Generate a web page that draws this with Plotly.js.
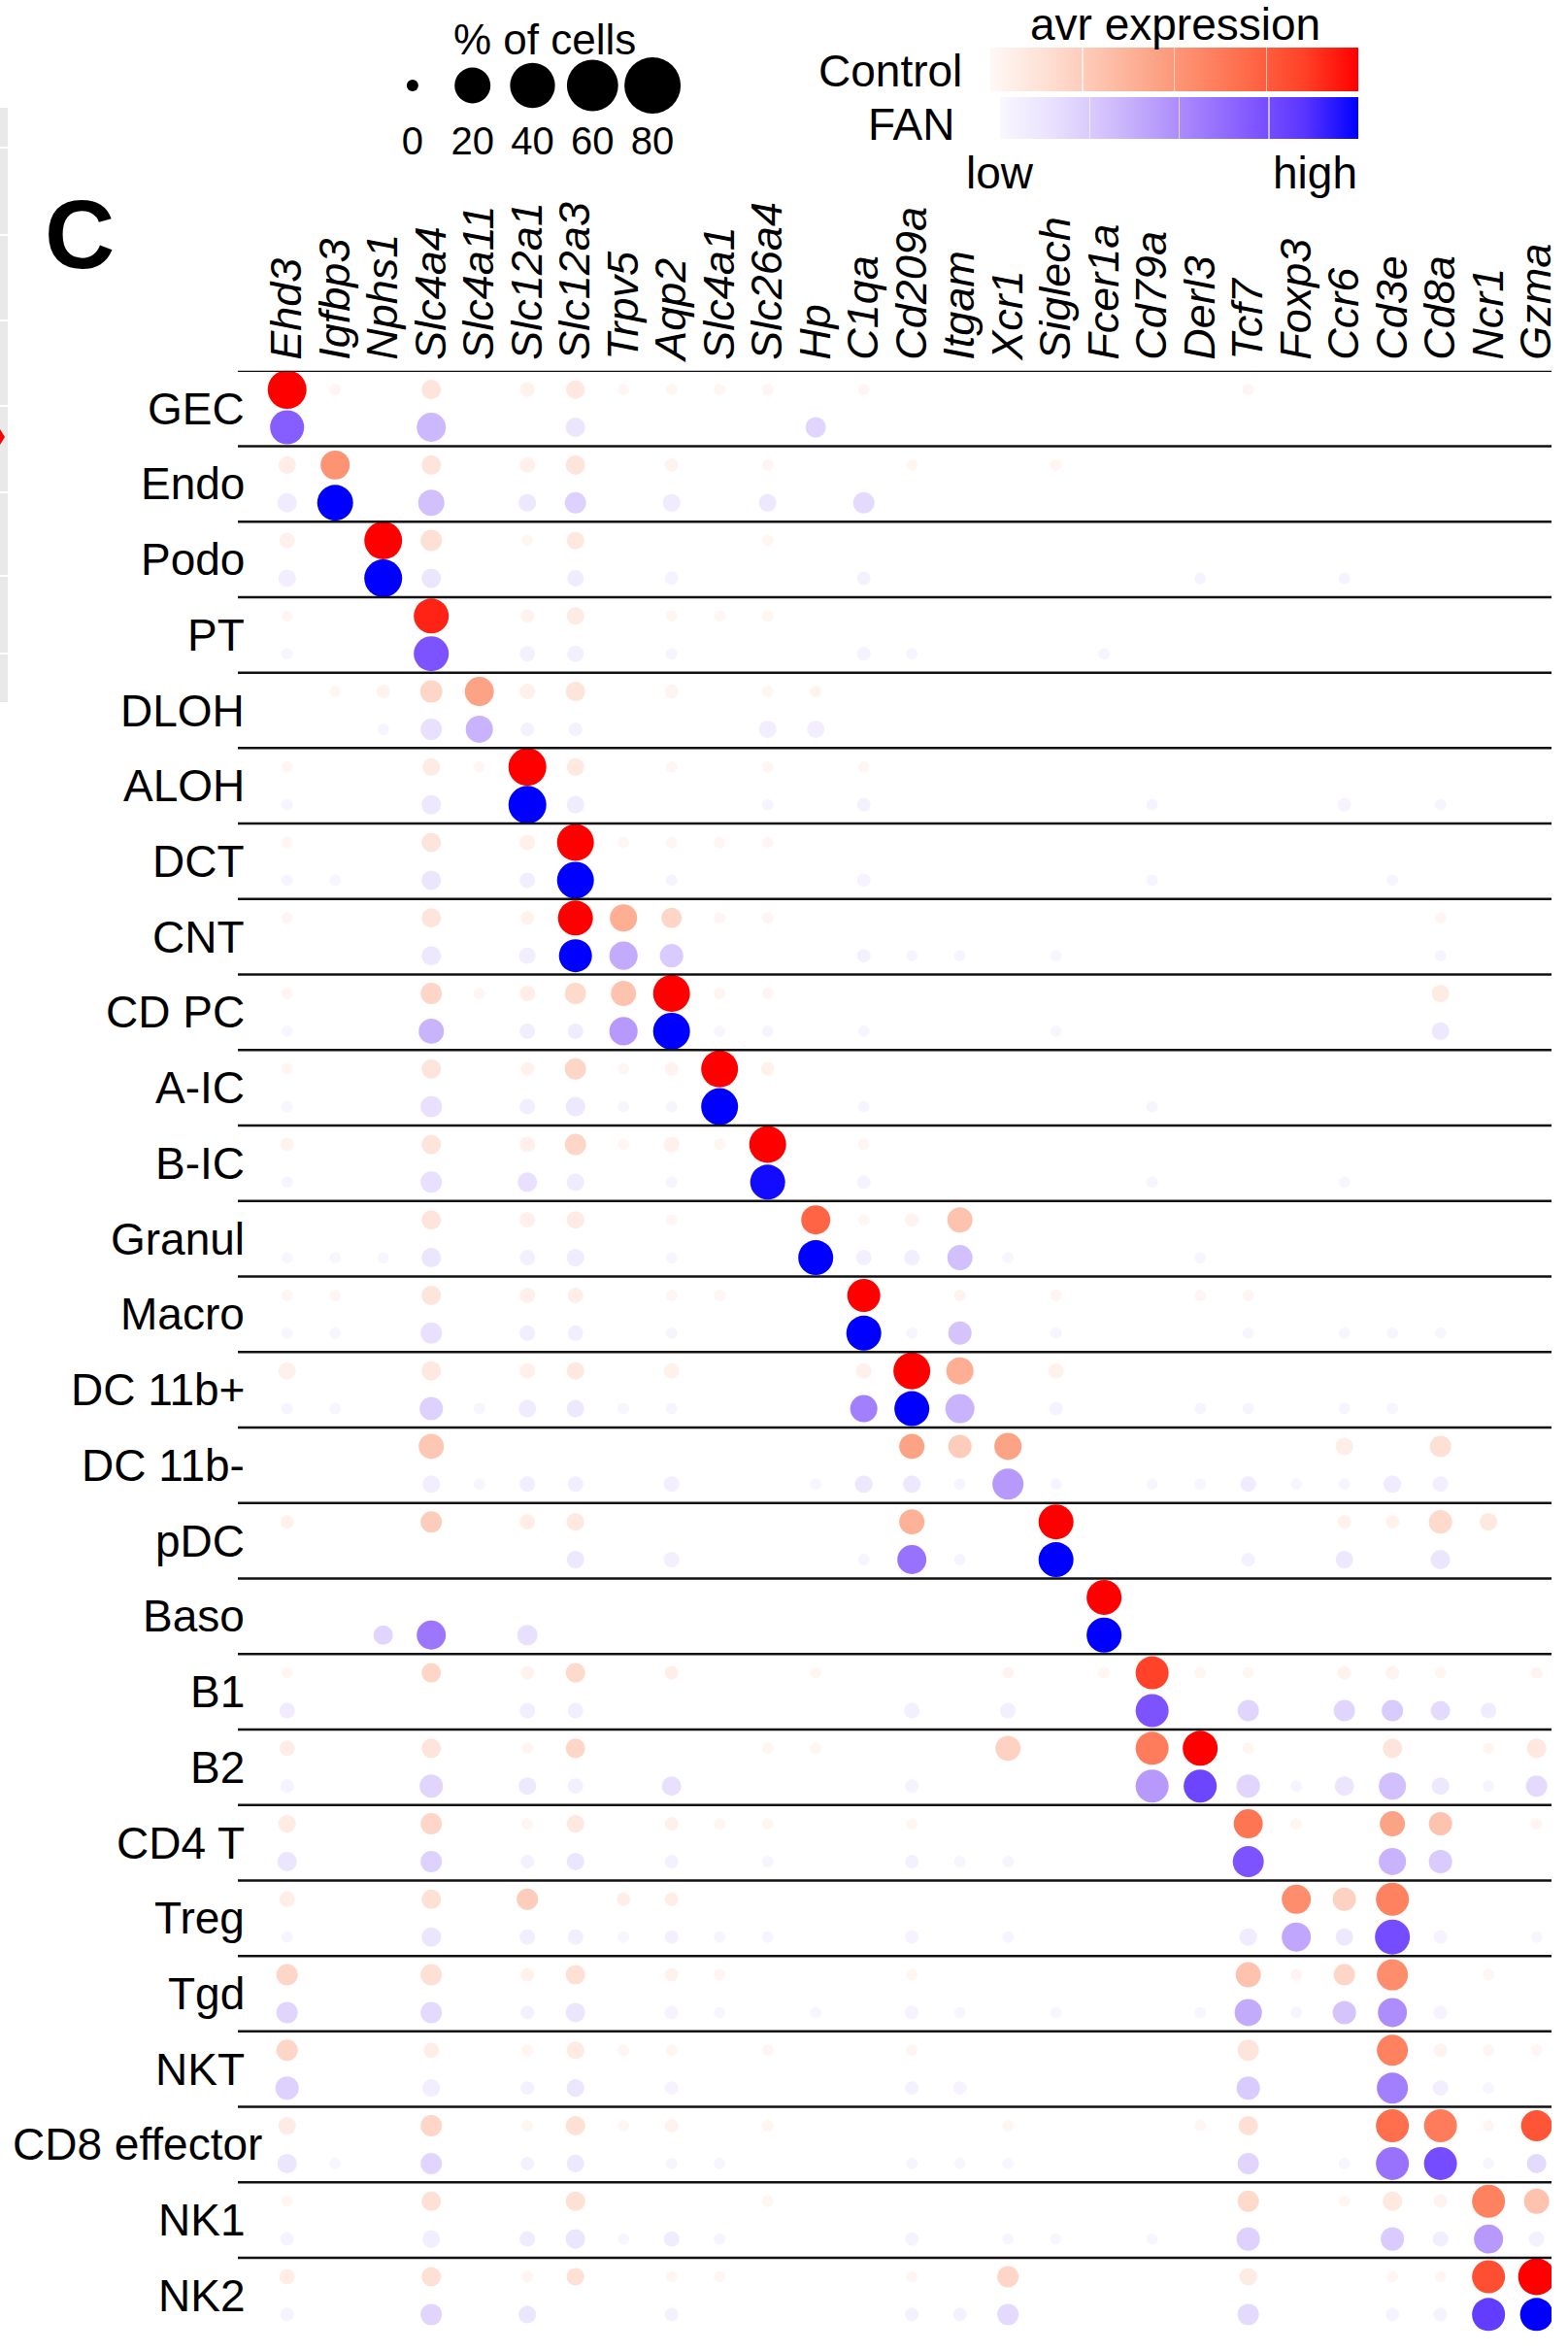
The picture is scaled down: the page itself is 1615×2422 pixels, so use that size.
<!DOCTYPE html>
<html>
<head>
<meta charset="utf-8">
<script src="https://cdn.plot.ly/plotly-3.0.1.min.js"></script>
<style>
html,body{margin:0;padding:0;background:#fff;}
#chart{width:1615px;height:2422px;}
</style>
</head>
<body>
<div id="chart"></div>
<script>
// ---------------- DATA ----------------
const genes = ['Ehd3','Igfbp3','Nphs1','Slc4a4','Slc4a11','Slc12a1','Slc12a3','Trpv5','Aqp2','Slc4a1','Slc26a4','Hp','C1qa','Cd209a','Itgam','Xcr1','Siglech','Fcer1a','Cd79a','Derl3','Tcf7','Foxp3','Ccr6','Cd3e','Cd8a','Ncr1','Gzma'];
const cellTypes = ['GEC','Endo','Podo','PT','DLOH','ALOH','DCT','CNT','CD PC','A-IC','B-IC','Granul','Macro','DC 11b+','DC 11b-','pDC','Baso','B1','B2','CD4 T','Treg','Tgd','NKT','CD8 effector','NK1','NK2'];
const conditions = ['Control','FAN'];

// % of cells expressing (Control)
const ctrlPct = [
[25.4,0.6,0,3,0,1.2,2.6,0.6,0.6,0.6, 0.6,0,0.6,0,0,0,0,0,0,0, 0.6,0,0,0,0,0,0],
[2.2,10.4,0,3,0,1.5,3,0,1,0, 0.6,0,0,0.6,0,0,0.6,0,0,0, 0,0,0,0,0,0,0],
[1.5,0,23.5,4,0,0.6,2.2,0,0,0, 0.6,0,0,0,0,0,0,0,0,0, 0,0,0,0,0,0,0],
[0.6,0,0,18.4,0,1,2.2,0,0.6,0.6, 0.6,0,0,0,0,0,0,0,0,0, 0,0,0,0,0,0,0],
[0,0.6,1,4.6,10.4,1.5,3,0,1,0, 0.6,0.6,0,0,0,0,0,0,0,0, 0,0,0,0,0,0,0],
[0.6,0,0,2.2,0.6,23.5,2.2,0,0.6,0, 0.6,0,0.6,0,0,0,0,0,0,0, 0,0,0,0,0,0,0],
[0.6,0,0,3,0,1.5,21.7,0.6,0.6,0.6, 0.6,0,0,0,0,0,0,0,0,0, 0,0,0,0,0,0,0],
[0.6,0,0,3,0,1,18.4,8.5,3.5,0.6, 0.6,0,0,0,0,0,0,0,0,0, 0,0,0,0,0.6,0,0],
[0.6,0,0,4,0.6,1.5,4,6.7,21.7,0.6, 0.6,0,0,0,0,0,0,0,0,0, 0,0,0,0,2.2,0,0],
[0.6,0,0,3,0,1,4,0.6,1,21.7, 1,0,0,0,0,0,0,0,0,0, 0,0,0,0,0,0,0],
[1,0,0,3,0,1.5,4,0.6,1.5,0.6, 21.7,0,0.6,0,0,0,0,0,0,0, 0,0,0,0,0,0,0],
[0,0,0,3,0,1.5,2.2,0,0.6,0, 0,10.4,0.6,1,6.7,0,0,0,0,0, 0,0,0,0,0,0,0],
[0.6,0.6,0,3,0,1.5,1.5,0,0.6,0.6, 0,0,15.4,0,0.6,0,0.6,0,0,0.6, 0.6,0,0,0,0,0,0],
[2.2,0,0,3,0,1.5,2.2,0,1.5,0, 0,0,1.5,21.7,8.5,0,1.5,0,0,0, 0,0,0,0,0,0,0],
[0,0,0,6.7,0,0,0,0,0,0, 0,0,0,6.7,5.3,8.5,0,0,0,0, 0,0,2.2,0,4,0,0],
[1,0,0,4,0,1.5,2.2,0,0,0, 0,0,0,6.7,0,0,18.4,0,0,0, 0,0,1,1,5.3,2.2,0],
[0,0,0,0,0,0,0,0,0,0, 0,0,0,0,0,0,0,18.4,0,0, 0,0,0,0,0,0,0],
[0.6,0,0,3,0,1,3,0,1,0, 0,0.6,0,0,0,0.6,0,0.6,15.4,0.6, 0.6,0,1,1,0.6,0,0.6],
[1.5,0,0,3,0,0.6,3,0,0,0, 0.6,0.6,0,0,0,6.7,0,0,15.4,18.4, 0.6,0,0,3,0,0.6,3],
[2.2,0,0,4,0,0.6,2.2,0,1,0.6, 0.6,0,0,0.6,0,0,0,0,0,0, 10.4,0.6,0,6.7,5.3,0,0.6],
[1.5,0,0,3,0,4,0,1,1,0, 0,0,0,0,0,0,0,0,0,0, 0,10.4,5.3,15.4,0,0,0],
[4,0,0,4,0,1,3,0,1,0.6, 0,0,0,0.6,0,0,0,0,0,0, 6.7,0.6,4,12.8,0,0.6,0],
[4,0,0,1.5,0,0.6,2.2,0.6,0.6,0, 0.6,0,0,0.6,0,0,0,0,0,0, 4,0,0,12.8,1,0.6,0.6],
[2.2,0,0,4,0,0.6,3,0.6,1,0, 0.6,0,0,0,0,0.6,0,0,0,0.6, 3,0,0,15.4,15.4,0.6,12.8],
[0.6,0,0,3,0,0,3,0,0,0, 0.6,0,0,0,0,0,0,0,0,0, 4,0,0.6,3,1,15.4,6.7],
[1.5,0,0,3,0,0.6,2.2,0,0.6,0.6, 0,0,0,0.6,0,4,0,0,0,0, 2.2,0,0,0.6,0.6,15.4,21.7]
];
// average expression, scaled 0..1 (Control)
const ctrlExpr = [
[1,0.02,0,0.12,0,0.04,0.1,0.01,0.02,0.02, 0.02,0,0.01,0,0,0,0,0,0,0, 0.01,0,0,0,0,0,0],
[0.07,0.52,0,0.12,0,0.05,0.12,0,0.03,0, 0.02,0,0,0.02,0,0,0.02,0,0,0, 0,0,0,0,0,0,0],
[0.05,0,1,0.15,0,0.02,0.1,0,0,0, 0.02,0,0,0,0,0,0,0,0,0, 0,0,0,0,0,0,0],
[0.01,0,0,0.92,0,0.03,0.08,0,0.02,0.01, 0.02,0,0,0,0,0,0,0,0,0, 0,0,0,0,0,0,0],
[0,0.01,0.03,0.2,0.45,0.05,0.12,0,0.03,0, 0.02,0.03,0,0,0,0,0,0,0,0, 0,0,0,0,0,0,0],
[0.01,0,0,0.08,0.01,1,0.1,0,0.01,0, 0.01,0,0.01,0,0,0,0,0,0,0, 0,0,0,0,0,0,0],
[0.01,0,0,0.12,0,0.05,1,0.01,0.02,0.01, 0.01,0,0,0,0,0,0,0,0,0, 0,0,0,0,0,0,0],
[0.01,0,0,0.12,0,0.04,1,0.4,0.2,0.01, 0.02,0,0,0,0,0,0,0,0,0, 0,0,0,0,0.01,0,0],
[0.02,0,0,0.2,0.01,0.06,0.18,0.3,1,0.02, 0.02,0,0,0,0,0,0,0,0,0, 0,0,0,0,0.08,0,0],
[0.02,0,0,0.12,0,0.04,0.2,0.01,0.03,1, 0.04,0,0,0,0,0,0,0,0,0, 0,0,0,0,0,0,0],
[0.03,0,0,0.12,0,0.05,0.2,0.01,0.05,0.02, 1,0,0.01,0,0,0,0,0,0,0, 0,0,0,0,0,0,0],
[0,0,0,0.12,0,0.05,0.08,0,0.01,0, 0,0.72,0.01,0.03,0.3,0,0,0,0,0, 0,0,0,0,0,0,0],
[0.01,0.01,0,0.12,0,0.05,0.06,0,0.01,0.01, 0,0,1,0,0.03,0,0.01,0,0,0.01, 0.01,0,0,0,0,0,0],
[0.05,0,0,0.1,0,0.05,0.1,0,0.04,0, 0,0,0.05,1,0.4,0,0.04,0,0,0, 0,0,0,0,0,0,0],
[0,0,0,0.28,0,0,0,0,0,0, 0,0,0,0.45,0.25,0.45,0,0,0,0, 0,0,0.06,0,0.15,0,0],
[0.04,0,0,0.25,0,0.07,0.1,0,0,0, 0,0,0,0.38,0,0,1,0,0,0, 0,0,0.04,0.04,0.18,0.1,0],
[0,0,0,0,0,0,0,0,0,0, 0,0,0,0,0,0,0,1,0,0, 0,0,0,0,0,0,0],
[0.02,0,0,0.2,0,0.03,0.18,0,0.06,0, 0,0.02,0,0,0,0.03,0,0.02,0.85,0.02, 0.02,0,0.04,0.03,0.02,0,0.03],
[0.06,0,0,0.12,0,0.02,0.2,0,0,0, 0.02,0.02,0,0,0,0.22,0,0,0.62,1, 0.02,0,0,0.12,0,0.02,0.1],
[0.08,0,0,0.2,0,0.02,0.1,0,0.05,0.02, 0.02,0,0,0.02,0,0,0,0,0,0, 0.65,0.02,0,0.45,0.3,0,0.02],
[0.06,0,0,0.15,0,0.25,0,0.06,0.07,0, 0,0,0,0,0,0,0,0,0,0, 0,0.55,0.22,0.6,0,0,0],
[0.2,0,0,0.15,0,0.04,0.15,0,0.04,0.02, 0,0,0,0.02,0,0,0,0,0,0, 0.3,0.01,0.2,0.55,0,0.01,0],
[0.2,0,0,0.06,0,0.02,0.08,0.01,0.02,0, 0.01,0,0,0.01,0,0,0,0,0,0, 0.12,0,0,0.6,0.03,0.01,0.01],
[0.08,0,0,0.2,0,0.02,0.15,0.01,0.03,0, 0.02,0,0,0,0,0.02,0,0,0,0.01, 0.15,0,0,0.68,0.62,0.01,0.78],
[0.02,0,0,0.15,0,0,0.15,0,0,0, 0.02,0,0,0,0,0,0,0,0,0, 0.18,0,0.02,0.1,0.03,0.6,0.3],
[0.07,0,0,0.15,0,0.02,0.15,0,0.02,0.01, 0,0,0,0.01,0,0.2,0,0,0,0, 0.08,0,0,0.01,0.01,0.8,1]
];
// % of cells expressing (FAN)
const fanPct = [
[16.9,0,0,10.4,0,0,3,0,0,0, 0,3.5,0,0,0,0,0,0,0,0, 0,0,0,0,0,0,0],
[3,20,0,7.6,0,2.2,4,0,2.2,0, 2.2,0,4,0,0,0,0,0,0,0, 0,0,0,0,0,0,0],
[2.2,0,23.5,3,0,0,1.8,0,1,0, 0,0,1,0,0,0,0,0,0,0.6, 0,0,0.6,0,0,0,0],
[0.6,0,0,18.4,0,1.5,1.8,0,0.6,0, 0,0,1,0.6,0,0,0,0.6,0,0, 0,0,0,0,0,0,0],
[0,0,0.6,4,8.5,1,1,0,0,0, 2.2,2.2,0,0,0,0,0,0,0,0, 0,0,0,0,0,0,0],
[0.6,0,0,3,0,23.5,2.2,0,0,0, 0.6,0,1,0,0,0,0,0,0.6,0, 0,0,1,0,0.6,0,0],
[0.6,0.6,0,3,0,1.5,21.7,0,0.6,0, 0,0,1,0,0,0,0,0,0.6,0, 0,0,0,0.6,0,0,0],
[0,0,0,3,0,1.8,15.4,9.5,5.3,0, 0,0,1,0.6,0.6,0,0.6,0,0,0, 0,0,0,0,0.6,0,0],
[0.6,0,0,6.7,0,1.5,1.5,9.5,21.7,0.6, 0.6,0,0.6,0,0,0,0.6,0,0,0, 0,0,0,0,2.2,0,0],
[0.6,0,0,4,0,1.5,3,0.6,0.6,21.7, 0,0,0.6,0,0,0,0,0,0.6,0, 0,0,0,0,0,0,0],
[0.6,0,0,4,0,3,2.2,0,0.6,0, 18.4,0,1,0,0,0,0,0,0.6,0, 0,0,0.6,0,0,0,0],
[0.6,0.6,0.6,3,0,1.5,2.2,0,0.6,0, 0,18.4,1.5,1.5,6.7,0.6,0,0,0,0.6, 0,0,0,0,0,0,0],
[0.6,0.6,0,4,0,1.5,1.5,0,0.6,0, 0,0,18.4,0.6,5.3,0,0.6,0,0,0, 0.6,0,0.6,0.6,0.6,0,0],
[0.6,0.6,0,5.3,0.6,2.2,2.2,0.6,0.6,0, 0,0,8.5,18.4,10.4,0,1,0,0,0.6, 0.6,0,0.6,0.6,0,0,0],
[0,0,0,2.2,0.6,1.5,1.5,0,1.5,0, 0,0.6,2.2,2.2,0.6,12.8,0.6,0,0.6,0.6, 1.5,0.6,0.6,2.2,1.5,0,0],
[0,0,0,0,0,0,2.2,0,1.5,0, 0,0,0.6,10.4,0.6,0,18.4,0,0,0, 1,0,2.2,0,3,0,0],
[0,0,3,10.4,0,3.5,0,0,0,0, 0,0,0,0,0,0,0,18.4,0,0, 0,0,0,0,0,0,0],
[1.5,0,0,0,0,1.5,1.5,0,0,0, 0,0,0,1.5,0,1.5,0,0,15.4,0, 4,0,4,4,3,1.5,0],
[1,0,0,5.3,0,2.2,1.5,0,3,0, 0,0,0,1,0,0,0,0,15.4,15.4, 5.3,0.6,3,8.5,2.2,0.6,4],
[3,0,0,4,0,1,2.2,0,1,0, 0.6,0,0,1,0.6,0.6,0,0,0,0, 12.8,0,0,8.5,5.3,0,0],
[0.6,0,0,3,0,1.5,1.5,0.6,1,0.6, 0.6,0,0,1,0,0.6,0,0,0,0, 2.2,10.4,2.2,18.4,1,0,0.6],
[4,0,0,4,0,1,3,0,1,0.6, 0,0.6,0,1,0.6,0,0.6,0,0,0.6, 8.5,0.6,5.3,10.4,1,0,0],
[5.3,0,0,2.2,0,1,2.2,0,1,0, 0,0,0,1,1,0,0,0,0,0, 5.3,0,0,12.8,1.5,0.6,0],
[3,0.6,0,4,0,1,2.2,0,0.6,0.6, 0,0,0,0.6,0.6,0.6,0,0,0,0, 4,0,0.6,15.4,15.4,0.6,3],
[1,0,0,2.2,0,1.5,3,0.6,1.5,0.6, 0,0,0,1,0,0.6,0.6,0,0.6,0, 5.3,0,0,5.3,1.5,10.4,1.5],
[1,0,0,4,0,2.2,0,0,1,0, 0,0,0,1,1,4,0,0,0,0, 4,0,0,1,1,15.4,15.4]
];
// average expression, scaled 0..1 (FAN)
const fanExpr = [
[0.68,0,0,0.33,0,0,0.12,0,0,0, 0,0.2,0,0,0,0,0,0,0,0, 0,0,0,0,0,0,0],
[0.08,1,0,0.3,0,0.1,0.22,0,0.08,0, 0.1,0,0.18,0,0,0,0,0,0,0, 0,0,0,0,0,0,0],
[0.06,0,1,0.12,0,0,0.08,0,0.03,0, 0,0,0.04,0,0,0,0,0,0,0.03, 0,0,0.03,0,0,0,0],
[0.01,0,0,0.72,0,0.04,0.05,0,0.02,0, 0,0,0.03,0.02,0,0,0,0.02,0,0, 0,0,0,0,0,0,0],
[0,0,0.02,0.15,0.35,0.04,0.04,0,0,0, 0.06,0.06,0,0,0,0,0,0,0,0, 0,0,0,0,0,0,0],
[0.02,0,0,0.1,0,1,0.08,0,0,0, 0.02,0,0.04,0,0,0,0,0,0.03,0, 0,0,0.03,0,0.02,0,0],
[0.02,0.01,0,0.12,0,0.06,1,0,0.03,0, 0,0,0.03,0,0,0,0,0,0.02,0, 0,0,0,0.02,0,0,0],
[0,0,0,0.1,0,0.06,1,0.38,0.25,0, 0,0,0.04,0.02,0.02,0,0.01,0,0,0, 0,0,0,0,0.02,0,0],
[0.01,0,0,0.35,0,0.06,0.08,0.45,1,0.01, 0.02,0,0.02,0,0,0,0.01,0,0,0, 0,0,0,0,0.1,0,0],
[0.01,0,0,0.15,0,0.06,0.1,0.01,0.02,1, 0,0,0.02,0,0,0,0,0,0.02,0, 0,0,0,0,0,0,0],
[0.02,0,0,0.15,0,0.15,0.08,0,0.02,0, 0.97,0,0.03,0,0,0,0,0,0.02,0, 0,0,0.01,0,0,0,0],
[0.01,0.01,0.01,0.12,0,0.05,0.08,0,0.01,0, 0,1,0.05,0.06,0.3,0.01,0,0,0,0.01, 0,0,0,0,0,0,0],
[0.01,0.01,0,0.15,0,0.06,0.06,0,0.02,0, 0,0,1,0.02,0.28,0,0.02,0,0,0, 0.01,0,0.01,0.01,0.01,0,0],
[0.02,0.01,0,0.22,0.01,0.08,0.1,0.01,0.02,0, 0,0,0.55,1,0.35,0,0.03,0,0,0.02, 0.02,0,0.02,0.01,0,0,0],
[0,0,0,0.06,0.01,0.06,0.06,0,0.05,0, 0,0.01,0.1,0.1,0.02,0.45,0.02,0,0.01,0.01, 0.08,0.01,0.02,0.08,0.05,0,0],
[0,0,0,0,0,0,0.1,0,0.05,0, 0,0,0.02,0.6,0.02,0,1,0,0,0, 0.04,0,0.1,0,0.12,0,0],
[0,0,0.2,0.58,0,0.15,0,0,0,0, 0,0,0,0,0,0,0,1,0,0, 0,0,0,0,0,0,0],
[0.08,0,0,0,0,0.06,0.06,0,0,0, 0,0,0,0.05,0,0.05,0,0,0.72,0, 0.2,0,0.2,0.25,0.18,0.08,0],
[0.03,0,0,0.2,0,0.1,0.05,0,0.15,0, 0,0,0,0.03,0,0,0,0,0.45,0.78, 0.2,0.02,0.12,0.3,0.1,0.02,0.18],
[0.12,0,0,0.22,0,0.04,0.12,0,0.04,0, 0.02,0,0,0.04,0.02,0.02,0,0,0,0, 0.72,0,0,0.35,0.25,0,0],
[0.02,0,0,0.12,0,0.06,0.06,0.01,0.05,0.02, 0.02,0,0,0.03,0,0.02,0,0,0,0, 0.08,0.4,0.1,0.75,0.03,0,0.01],
[0.2,0,0,0.18,0,0.04,0.12,0,0.03,0.01, 0,0.01,0,0.03,0.01,0,0.01,0,0,0.01, 0.38,0.02,0.28,0.5,0.03,0,0],
[0.22,0,0,0.06,0,0.04,0.12,0,0.03,0, 0,0,0,0.04,0.03,0,0,0,0,0, 0.25,0,0,0.55,0.06,0.01,0],
[0.12,0.01,0,0.2,0,0.04,0.1,0,0.02,0.01, 0,0,0,0.02,0.01,0.01,0,0,0,0, 0.2,0,0.01,0.6,0.75,0.01,0.18],
[0.03,0,0,0.06,0,0.08,0.12,0.01,0.08,0.02, 0,0,0,0.03,0,0.01,0.01,0,0.01,0, 0.22,0,0,0.25,0.06,0.45,0.04],
[0.03,0,0,0.2,0,0.12,0,0,0.04,0, 0,0,0,0.04,0.04,0.18,0,0,0,0, 0.18,0,0,0.03,0.03,0.82,1]
];
// size legend
const legendPct = [0, 20, 40, 60, 80];

// ---------------- STYLE / LAYOUT ----------------
const W = 1615, H = 2422;
const FONT = 'Liberation Sans, Arial, Helvetica, sans-serif';
const ctrlScale = [[0,'#fff8f6'],[0.15,'#fee0d4'],[0.3,'#fdc3ae'],[0.5,'#fc9878'],[0.7,'#ff6a48'],[0.85,'#ff4228'],[1,'#ff0000']];
const fanScale  = [[0,'#f9f7ff'],[0.15,'#e8e0fe'],[0.3,'#d2c0fc'],[0.5,'#ad8cfb'],[0.7,'#8258ff'],[0.85,'#5a35ff'],[1,'#0000ff']];

function dotSize(p) { return p <= 0 ? 12 : Math.max(10, 14.02 * Math.pow(p, 0.324)); }

const yCats = [];
cellTypes.forEach(c => conditions.forEach(k => yCats.push(c + '|' + k)));

function barSpec(x0px, x1px, topPx, thick) {
  return {
    orientation: 'h', xref: 'container', yref: 'container',
    x: x0px / W, xanchor: 'left', y: 1 - topPx / H, yanchor: 'top',
    len: x1px - x0px, lenmode: 'pixels', thickness: thick, thicknessmode: 'pixels',
    outlinewidth: 0, xpad: 0, ypad: 0,
    tickmode: 'array', tickvals: [0.25, 0.5, 0.75], ticks: 'inside', ticklen: thick,
    tickwidth: 1.5, tickcolor: 'rgba(255,255,255,0.6)', showticklabels: false
  };
}

function buildTrace(pctM, exprM, cond, scale, bar) {
  const x = [], y = [], s = [], c = [], t = [];
  cellTypes.forEach((ct, i) => {
    genes.forEach((g, j) => {
      const p = pctM[i][j];
      if (p > 0) {
        x.push(g); y.push(ct + '|' + cond); s.push(dotSize(p)); c.push(exprM[i][j]);
        t.push(ct + ' ' + cond + ' ' + g + ': ' + p + '%');
      }
    });
  });
  return {
    type: 'scatter', mode: 'markers', name: cond, x: x, y: y, text: t, hoverinfo: 'text',
    xaxis: 'x', yaxis: 'y', showlegend: false,
    marker: { size: s, color: c, colorscale: scale, cmin: 0, cmax: 1, opacity: 1,
              line: { width: 0 }, showscale: true, colorbar: bar }
  };
}

const traces = [
  buildTrace(ctrlPct, ctrlExpr, 'Control', ctrlScale, barSpec(1020, 1399, 49, 45)),
  buildTrace(fanPct, fanExpr, 'FAN', fanScale, barSpec(1030, 1399, 100, 43)),
  {
    type: 'scatter', mode: 'markers', x: legendPct.map(String), y: legendPct.map(() => 0),
    xaxis: 'x2', yaxis: 'y2', showlegend: false, hoverinfo: 'skip',
    marker: { size: legendPct.map(dotSize), color: '#000000', opacity: 1, line: { width: 0 } }
  }
];

// separators between cell-type groups (header line included)
const shapes = [];
cellTypes.forEach((c, i) => {
  shapes.push({ type: 'line', xref: 'paper', yref: 'y', x0: 245 / W, x1: 1598 / W,
                y0: 2 * i - 0.5, y1: 2 * i - 0.5, line: { color: '#111', width: 2.5 } });
});
// remnant of the neighbouring panel at the left edge
shapes.push({ type: 'rect', xref: 'paper', yref: 'paper', x0: 0, x1: 8 / W,
              y0: 1 - 723 / H, y1: 1 - 111 / H, fillcolor: '#e9e9e9', line: { width: 0 } });
[152, 242, 330, 418, 507, 593, 673].forEach(py => {
  shapes.push({ type: 'line', xref: 'paper', yref: 'paper', x0: 0, x1: 8 / W,
                y0: 1 - py / H, y1: 1 - py / H, line: { color: '#ffffff', width: 2 } });
});
shapes.push({ type: 'path', xref: 'paper', yref: 'paper',
              path: 'M 0 ' + (1 - 442 / H) + ' L ' + (5 / W) + ' ' + (1 - 450 / H) + ' L 0 ' + (1 - 458 / H) + ' Z',
              fillcolor: '#ff0000', line: { width: 0 } });

const annotations = [];
cellTypes.forEach((c, i) => {
  const long = c.length > 10;
  annotations.push({
    text: c, xref: 'paper', yref: 'y', x: long ? 11 / W : 254 / W, xanchor: long ? 'left' : 'right',
    y: 2 * i + 0.5, yanchor: 'middle', showarrow: false, font: { family: FONT, size: 46, color: '#000' }
  });
});
function note(text, xpx, ypx, size, anchor, extra) {
  return Object.assign({ text: text, xref: 'paper', yref: 'paper', x: xpx / W, y: 1 - ypx / H,
    xanchor: anchor || 'center', yanchor: 'middle', showarrow: false,
    font: { family: FONT, size: size, color: '#000' } }, extra || {});
}
annotations.push(note('% of cells', 561, 40, 44));
annotations.push(note('avr expression', 1210, 25, 46));
annotations.push(note('Control', 993, 73, 46, 'right'));
annotations.push(note('FAN', 985, 128, 46, 'right'));
annotations.push(note('low', 1030, 178, 46));
annotations.push(note('high', 1354, 178, 46));
annotations.push(note('<b>C</b>', 82, 241, 100));

const layout = {
  width: W, height: H,
  margin: { l: 0, r: 0, t: 0, b: 0, pad: 0, autoexpand: false },
  paper_bgcolor: '#ffffff', plot_bgcolor: '#ffffff',
  font: { family: FONT, color: '#000' },
  showlegend: false,
  xaxis: {
    domain: [262 / W, 1598 / W], anchor: 'y', type: 'category',
    categoryorder: 'array', categoryarray: genes, range: [-0.681, 26.31],
    side: 'top', tickangle: -90, tickmode: 'array', tickvals: genes,
    ticktext: genes.map(g => '<i>' + g + '</i>'),
    tickfont: { family: FONT, size: 45, color: '#000' },
    ticks: '', showgrid: false, zeroline: false, showline: false, ticklabelstandoff: 10,
    fixedrange: true, automargin: false
  },
  yaxis: {
    domain: [19.2 / H, 1 - 381.7 / H], anchor: 'x', type: 'category',
    categoryorder: 'array', categoryarray: yCats, range: [yCats.length - 0.5, -0.5],
    showticklabels: false, ticks: '', showgrid: false, zeroline: false, showline: false,
    fixedrange: true, automargin: false
  },
  xaxis2: {
    domain: [394 / W, 703 / W], anchor: 'y2', type: 'category',
    categoryorder: 'array', categoryarray: legendPct.map(String), range: [-0.5, 4.5],
    side: 'bottom', ticks: '', showgrid: false, zeroline: false, showline: false,
    tickfont: { family: FONT, size: 40, color: '#000' }, fixedrange: true, automargin: false
  },
  yaxis2: {
    domain: [1 - 118 / H, 1 - 58 / H], anchor: 'x2', range: [-1, 1],
    visible: false, fixedrange: true
  },
  shapes: shapes,
  annotations: annotations
};

Plotly.newPlot('chart', traces, layout, { staticPlot: true, displayModeBar: false });
</script>
</body>
</html>
